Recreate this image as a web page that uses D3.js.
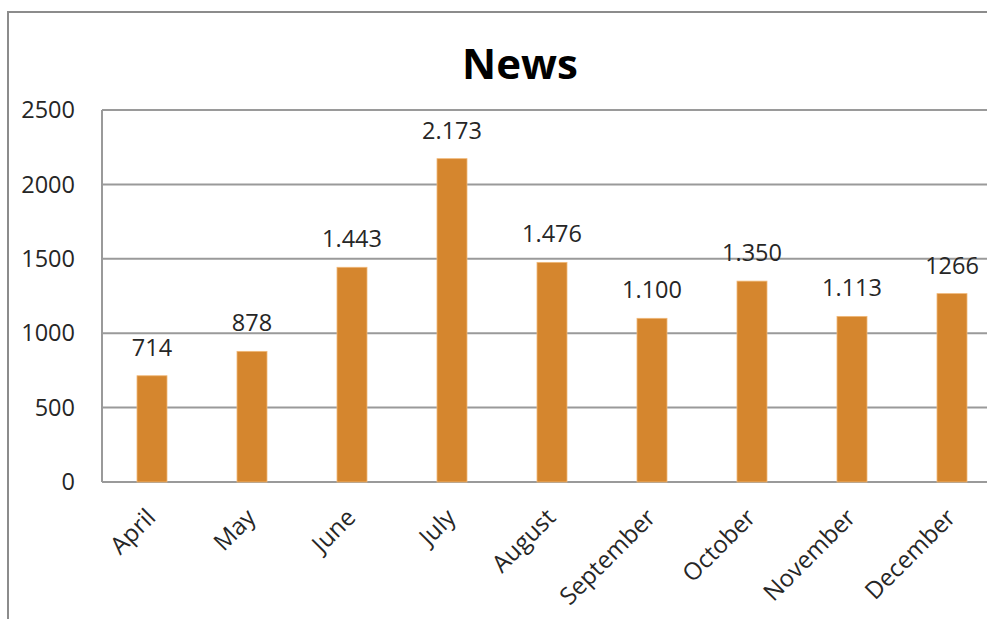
<!DOCTYPE html>
<html>
<head>
<meta charset="utf-8">
<script src="https://cdn.jsdelivr.net/npm/d3@7"></script>
<style>
  body { margin: 0; background: #fff; overflow: hidden; }
  text { font-family: "Open Sans", sans-serif; fill: #262626; }
</style>
</head>
<body>
<script>
// Data
const months = ["April", "May", "June", "July", "August", "September", "October", "November", "December"];
const news = [714, 878, 1443, 2173, 1476, 1100, 1350, 1113, 1266];
const valueLabels = ["714", "878", "1.443", "2.173", "1.476", "1.100", "1.350", "1.113", "1266"];
const yTicks = [0, 500, 1000, 1500, 2000, 2500];

const W = 987, H = 619;
const plot = { left: 102, top: 110, right: 1002, bottom: 482 };

const svg = d3.select("body").append("svg")
  .attr("width", W)
  .attr("height", H);

// outer chart border (cropped at right and bottom)
svg.append("path")
  .attr("d", `M8,${H + 5}V12H${W + 5}`)
  .attr("fill", "none")
  .attr("stroke", "#8c8c8c")
  .attr("stroke-width", 2);

const x = d3.scaleBand()
  .domain(months)
  .range([plot.left, plot.right])
  .paddingInner(0.7)
  .paddingOuter(0.35);

const y = d3.scaleLinear()
  .domain([0, 2500])
  .range([plot.bottom, plot.top]);

// gridlines
svg.append("g")
  .selectAll("line")
  .data(yTicks)
  .join("line")
  .attr("x1", plot.left)
  .attr("x2", plot.right)
  .attr("y1", d => y(d))
  .attr("y2", d => y(d))
  .attr("stroke", "#9a9a9a")
  .attr("stroke-width", 2);

// left axis line
svg.append("line")
  .attr("x1", plot.left).attr("x2", plot.left)
  .attr("y1", plot.top).attr("y2", plot.bottom)
  .attr("stroke", "#9a9a9a")
  .attr("stroke-width", 2);

// y tick labels
svg.append("g")
  .selectAll("text")
  .data(yTicks)
  .join("text")
  .attr("x", 75)
  .attr("y", d => y(d))
  .attr("dy", "0.35em")
  .attr("text-anchor", "end")
  .style("font-size", "23.5px")
  .text(d => d);

// bars
svg.append("g")
  .selectAll("rect")
  .data(news)
  .join("rect")
  .attr("x", (d, i) => x(months[i]))
  .attr("width", x.bandwidth())
  .attr("y", d => y(d))
  .attr("height", d => y(0) - y(d))
  .attr("fill", "#d5862e")
  .attr("stroke", "#f0b878")
  .attr("stroke-width", 0.8);

// value labels
svg.append("g")
  .selectAll("text")
  .data(news)
  .join("text")
  .attr("x", (d, i) => x(months[i]) + x.bandwidth() / 2)
  .attr("y", d => y(d) - 20)
  .attr("text-anchor", "middle")
  .style("font-size", "23.5px")
  .text((d, i) => valueLabels[i]);

// month labels, rotated
svg.append("g")
  .selectAll("text")
  .data(months)
  .join("text")
  .attr("transform", d => `translate(${x(d) + x.bandwidth() / 2 + 5},${plot.bottom + 37}) rotate(-45)`)
  .attr("text-anchor", "end")
  .style("font-size", "24px")
  .text(d => d);

// title
svg.append("text")
  .attr("x", 520)
  .attr("y", 79)
  .attr("text-anchor", "middle")
  .style("font-size", "42px")
  .style("font-weight", "bold")
  .style("fill", "#000")
  .text("News");
</script>
</body>
</html>
